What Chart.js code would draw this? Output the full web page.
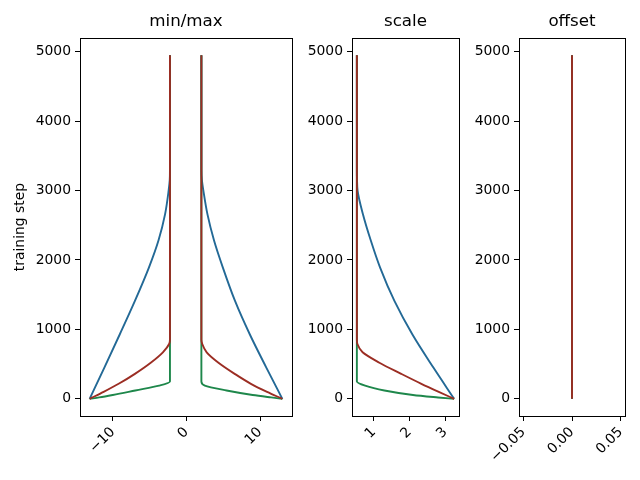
<!DOCTYPE html>
<html lang="en">
  <head>
    <meta charset="UTF-8" />
    <title>min/max, scale, offset</title>
    <script src="https://cdn.jsdelivr.net/npm/chart.js"></script>
    <style>
      body {
        margin: 0;
        background: #fff;
      }
      .panel {
        position: absolute;
        top: 0;
        height: 480px;
      }
    </style>
  </head>
  <body>
    <div class="panel" style="left: 0px; width: 300px"><canvas id="minMaxChart" width="300" height="480"></canvas></div>
    <div class="panel" style="left: 300px; width: 165px"><canvas id="scaleChart" width="165" height="480"></canvas></div>
    <div class="panel" style="left: 465px; width: 175px"><canvas id="offsetChart" width="175" height="480"></canvas></div>

    <script>
      const blueSteps = [0, 450, 930, 1410, 1890, 2280, 2660, 3000, 3150, 3300, 4950];
      const blueMax = [13.03, 10.85, 8.6, 6.6, 4.95, 3.75, 2.85, 2.3, 2.1, 2.03, 2.03];
      const blueMin = [-13.15, -11.15, -9.05, -7.0, -5.1, -3.8, -2.9, -2.42, -2.27, -2.24, -2.24];
      const blueScale = [3.25, 2.67, 2.08, 1.58, 1.18, 0.92, 0.7, 0.55, 0.535, 0.53, 0.53];

      const redSteps = [0, 100, 220, 360, 520, 670, 790, 850, 4950];
      const redMax = [13.03, 10.95, 8.7, 6.55, 4.35, 2.75, 2.15, 2.03, 2.03];
      const redMin = [-13.15, -11.25, -9.15, -7.0, -4.85, -3.2, -2.35, -2.24, -2.24];
      const redScale = [3.25, 2.82, 2.32, 1.77, 1.16, 0.69, 0.545, 0.53, 0.53];

      const greenSteps = [0, 20, 55, 120, 190, 250, 4950];
      const greenMax = [13.03, 11.5, 9.0, 5.45, 2.5, 2.03, 2.03];
      const greenMin = [-13.15, -11.85, -10.0, -6.95, -3.7, -2.24, -2.24];
      const greenScale = [3.25, 2.8, 2.1, 1.3, 0.76, 0.53, 0.53];

      const offsetSteps = [0, 4950];
      const blueOffset = [0, 0];
      const redOffset = [0, 0];
      const greenOffset = [0, 0];

      const stepTicks = [0, 1000, 2000, 3000, 4000, 5000];
      const minMaxTicks = [-10, 0, 10];
      const scaleTicks = [1, 2, 3];
      const offsetTicks = [-0.05, 0, 0.05];

      const BLUE = "#236996";
      const RED = "#9b2d23";
      const GREEN = "#1e874b";
      const FONT = "'DejaVu Sans', sans-serif";

      const framePlugin = {
        id: "frame",
        afterDraw(chart) {
          const { ctx, chartArea: a } = chart;
          ctx.save();
          ctx.strokeStyle = "#000";
          ctx.lineWidth = 1;
          ctx.strokeRect(Math.round(a.left) + 0.5, Math.round(a.top) + 0.5, Math.round(a.right - a.left), Math.round(a.bottom - a.top));
          ctx.restore();
        },
      };

      function line(steps, values, color) {
        return {
          data: steps.map((s, i) => ({ x: values[i], y: s })),
          borderColor: color,
          backgroundColor: color,
          borderWidth: 1.9,
          pointRadius: 0,
          showLine: true,
          fill: false,
          cubicInterpolationMode: "monotone",
        };
      }

      function minus(v, digits) {
        const s = digits ? Math.abs(v).toFixed(digits) : String(Math.abs(v));
        return v < 0 ? "\u2212" + s : s;
      }

      function makeChart(id, opts) {
        const ctx = document.getElementById(id).getContext("2d");
        return new Chart(ctx, {
          type: "scatter",
          data: { datasets: opts.datasets },
          plugins: [framePlugin],
          options: {
            responsive: false,
            animation: false,
            indexAxis: "y",
            layout: { padding: { left: opts.padLeft, right: opts.padRight, top: 0, bottom: 0 } },
            plugins: {
              legend: { display: false },
              tooltip: { enabled: false },
              title: {
                display: true,
                fullSize: false,
                text: opts.title,
                color: "#000",
                font: { family: FONT, size: 16.7, weight: "normal" },
                padding: { top: 12, bottom: 6 },
              },
            },
            scales: {
              x: {
                type: "linear",
                min: opts.xMin,
                max: opts.xMax,
                afterBuildTicks: (s) => {
                  s.ticks = opts.xTicks.map((v) => ({ value: v }));
                },
                afterFit: (s) => {
                  s.height = 64;
                },
                border: { display: false },
                grid: { drawOnChartArea: false, drawTicks: true, tickLength: 5, color: "#000" },
                ticks: {
                  color: "#000",
                  font: { family: FONT, size: 13.9 },
                  minRotation: 45,
                  maxRotation: 45,
                  padding: 3,
                  callback: opts.xLabel,
                },
              },
              y: {
                type: "linear",
                min: -247.5,
                max: 5197.5,
                afterBuildTicks: (s) => {
                  s.ticks = stepTicks.map((v) => ({ value: v }));
                },
                afterFit: (s) => {
                  s.width = opts.yWidth;
                },
                border: { display: false },
                grid: { drawOnChartArea: false, drawTicks: true, tickLength: 5, color: "#000" },
                ticks: {
                  color: "#000",
                  font: { family: FONT, size: 13.9 },
                  padding: 4,
                  callback: (v) => String(v),
                },
                title: {
                  display: !!opts.yTitle,
                  text: opts.yTitle || "",
                  color: "#000",
                  font: { family: FONT, size: 13.9 },
                  padding: { top: 4, bottom: 0 },
                },
              },
            },
          },
        });
      }

      // red first so it is drawn on top, then green, then blue
      makeChart("minMaxChart", {
        title: "min/max",
        yTitle: "training step",
        padLeft: 8,
        padRight: 8,
        yWidth: 72,
        xMin: -14.46,
        xMax: 14.34,
        xTicks: minMaxTicks,
        xLabel: (v) => minus(v),
        datasets: [
          line(redSteps, redMax, RED),
          line(redSteps, redMin, RED),
          line(greenSteps, greenMax, GREEN),
          line(greenSteps, greenMin, GREEN),
          line(blueSteps, blueMax, BLUE),
          line(blueSteps, blueMin, BLUE),
        ],
      });

      makeChart("scaleChart", {
        title: "scale",
        padLeft: 0,
        padRight: 6,
        yWidth: 52,
        xMin: 0.394,
        xMax: 3.386,
        xTicks: scaleTicks,
        xLabel: (v) => String(v),
        datasets: [
          line(redSteps, redScale, RED),
          line(greenSteps, greenScale, GREEN),
          line(blueSteps, blueScale, BLUE),
        ],
      });

      makeChart("offsetChart", {
        title: "offset",
        padLeft: 0,
        padRight: 15,
        yWidth: 54,
        xMin: -0.0545,
        xMax: 0.0545,
        xTicks: offsetTicks,
        xLabel: (v) => minus(v, 2),
        datasets: [
          line(offsetSteps, redOffset, RED),
          line(offsetSteps, greenOffset, GREEN),
          line(offsetSteps, blueOffset, BLUE),
        ],
      });
    </script>
  </body>
</html>
